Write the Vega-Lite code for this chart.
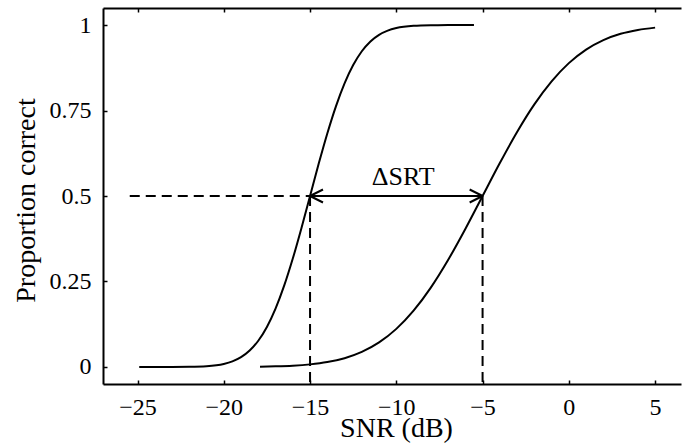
{
  "$schema": "https://vega.github.io/schema/vega-lite/v6.json",
  "width": 578,
  "height": 376,
  "autosize": "none",
  "padding": {"left": 103, "top": 8, "right": 1, "bottom": 59},
  "background": "white",
  "config": {
    "view": {"stroke": null},
    "font": "Liberation Serif",
    "axis": {
      "domainColor": "black", "domainWidth": 2,
      "tickColor": "black", "tickWidth": 1.5, "tickSize": -4,
      "grid": false,
      "labelFont": "Liberation Serif", "labelFontSize": 24, "labelColor": "black",
      "titleFont": "Liberation Serif", "titleFontSize": 28, "titleColor": "black", "titleFontWeight": "normal"
    }
  },
  "datasets": {
    "curves": [
      {"curve": "A", "snr": -24.9, "p": 0.0},
      {"curve": "A", "snr": -23, "p": 0.0000},
      {"curve": "A", "snr": -22, "p": 0.0004},
      {"curve": "A", "snr": -21, "p": 0.0021},
      {"curve": "A", "snr": -20, "p": 0.0086},
      {"curve": "A", "snr": -19.5, "p": 0.0161},
      {"curve": "A", "snr": -19, "p": 0.0284},
      {"curve": "A", "snr": -18.5, "p": 0.0478},
      {"curve": "A", "snr": -18, "p": 0.0766},
      {"curve": "A", "snr": -17.5, "p": 0.117},
      {"curve": "A", "snr": -17, "p": 0.1705},
      {"curve": "A", "snr": -16.5, "p": 0.2376},
      {"curve": "A", "snr": -16, "p": 0.317},
      {"curve": "A", "snr": -15.5, "p": 0.4059},
      {"curve": "A", "snr": -15, "p": 0.5},
      {"curve": "A", "snr": -14.5, "p": 0.5941},
      {"curve": "A", "snr": -14, "p": 0.683},
      {"curve": "A", "snr": -13.5, "p": 0.7624},
      {"curve": "A", "snr": -13, "p": 0.8295},
      {"curve": "A", "snr": -12.5, "p": 0.883},
      {"curve": "A", "snr": -12, "p": 0.9234},
      {"curve": "A", "snr": -11.5, "p": 0.9522},
      {"curve": "A", "snr": -11, "p": 0.9716},
      {"curve": "A", "snr": -10.5, "p": 0.9839},
      {"curve": "A", "snr": -10, "p": 0.9914},
      {"curve": "A", "snr": -9, "p": 0.9979},
      {"curve": "A", "snr": -8, "p": 0.9996},
      {"curve": "A", "snr": -7, "p": 1.0},
      {"curve": "A", "snr": -5.5, "p": 1.0},
      {"curve": "B", "snr": -17.9, "p": 0.0008},
      {"curve": "B", "snr": -17, "p": 0.0017},
      {"curve": "B", "snr": -16, "p": 0.0036},
      {"curve": "B", "snr": -15, "p": 0.0074},
      {"curve": "B", "snr": -14, "p": 0.0141},
      {"curve": "B", "snr": -13, "p": 0.0255},
      {"curve": "B", "snr": -12, "p": 0.0439},
      {"curve": "B", "snr": -11, "p": 0.0717},
      {"curve": "B", "snr": -10, "p": 0.1113},
      {"curve": "B", "snr": -9, "p": 0.1646},
      {"curve": "B", "snr": -8, "p": 0.2321},
      {"curve": "B", "snr": -7, "p": 0.3128},
      {"curve": "B", "snr": -6, "p": 0.4036},
      {"curve": "B", "snr": -5, "p": 0.5},
      {"curve": "B", "snr": -4, "p": 0.5964},
      {"curve": "B", "snr": -3, "p": 0.6872},
      {"curve": "B", "snr": -2, "p": 0.7679},
      {"curve": "B", "snr": -1, "p": 0.8354},
      {"curve": "B", "snr": 0, "p": 0.8887},
      {"curve": "B", "snr": 1, "p": 0.9283},
      {"curve": "B", "snr": 2, "p": 0.9561},
      {"curve": "B", "snr": 3, "p": 0.9745},
      {"curve": "B", "snr": 4, "p": 0.9858},
      {"curve": "B", "snr": 5, "p": 0.9926}
    ],
    "dashed": [
      {"seg": "h", "snr": -25.45, "p": 0.5},
      {"seg": "h", "snr": -15, "p": 0.5},
      {"seg": "v1", "snr": -15, "p": 0.5},
      {"seg": "v1", "snr": -15, "p": -0.05},
      {"seg": "v2", "snr": -5, "p": 0.5},
      {"seg": "v2", "snr": -5, "p": -0.05}
    ],
    "arrow": [
      {"seg": "shaft", "snr": -15, "p": 0.5},
      {"seg": "shaft", "snr": -5, "p": 0.5},
      {"seg": "la", "snr": -15, "p": 0.5},
      {"seg": "la", "snr": -14.25, "p": 0.519},
      {"seg": "lb", "snr": -15, "p": 0.5},
      {"seg": "lb", "snr": -14.25, "p": 0.481},
      {"seg": "ra", "snr": -5.75, "p": 0.519},
      {"seg": "ra", "snr": -5, "p": 0.5},
      {"seg": "rb", "snr": -5.75, "p": 0.481},
      {"seg": "rb", "snr": -5, "p": 0.5}
    ],
    "label": [
      {"snr": -9.6, "p": 0.531, "text": "ΔSRT"}
    ]
  },
  "layer": [
    {
      "data": {"name": "curves"},
      "mark": {"type": "line", "color": "black", "strokeWidth": 2, "interpolate": "monotone"},
      "encoding": {
        "x": {"field": "snr", "type": "quantitative",
              "scale": {"domain": [-27, 6.5], "nice": false, "zero": false},
              "axis": {"orient": "bottom", "values": [-25, -20, -15, -10, -5, 0, 5], "format": "d",
                       "labelPadding": 34, "labelBaseline": "alphabetic",
                       "title": "SNR (dB)", "titleX": 293, "titleY": 52, "titleAlign": "center", "titleBaseline": "alphabetic"}},
        "y": {"field": "p", "type": "quantitative",
              "scale": {"domain": [-0.05, 1.05], "nice": false, "zero": false},
              "axis": {"values": [0, 0.25, 0.5, 0.75, 1], "format": ".2~f", "labelPadding": 16,
                       "labelAlign": "right", "labelBaseline": "middle",
                       "title": "Proportion correct", "titleX": -69, "titleY": 192, "titleAngle": -90,
                       "titleAlign": "center", "titleBaseline": "alphabetic"}},
        "detail": {"field": "curve"}
      }
    },
    {
      "data": {"name": "dashed"},
      "mark": {"type": "line", "color": "black", "strokeWidth": 2, "strokeDash": [10, 6]},
      "encoding": {
        "x": {"field": "snr", "type": "quantitative",
              "axis": {"orient": "top", "values": [-25, -20, -15, -10, -5, 0, 5], "labels": false, "title": null}},
        "y": {"field": "p", "type": "quantitative"},
        "detail": {"field": "seg"}
      }
    },
    {
      "data": {"name": "arrow"},
      "mark": {"type": "line", "color": "black", "strokeWidth": 2},
      "encoding": {
        "x": {"field": "snr", "type": "quantitative", "axis": null},
        "y": {"field": "p", "type": "quantitative"},
        "detail": {"field": "seg"}
      }
    },
    {
      "data": {"name": "label"},
      "mark": {"type": "text", "color": "black", "fontSize": 26, "font": "Liberation Serif", "align": "center", "baseline": "alphabetic"},
      "encoding": {
        "x": {"field": "snr", "type": "quantitative", "axis": null},
        "y": {"field": "p", "type": "quantitative"},
        "text": {"field": "text"}
      }
    }
  ],
  "resolve": {"axis": {"x": "independent"}}
}
